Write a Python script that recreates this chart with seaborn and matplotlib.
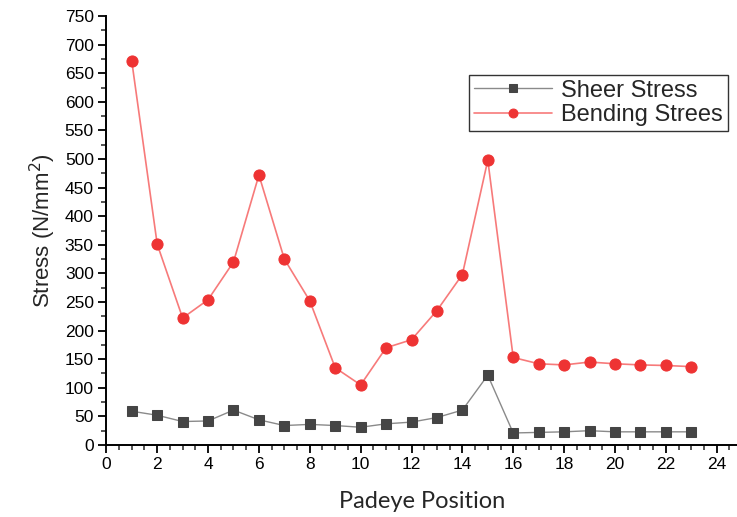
import matplotlib
matplotlib.use("Agg")
import matplotlib.pyplot as plt
import seaborn as sns
import pandas as pd
from matplotlib.ticker import MultipleLocator

positions = list(range(1, 24))
sheer_stress = [59, 52, 41, 42, 61, 44, 34, 36, 34, 31, 37, 40, 48, 61, 122,
                21, 22, 23, 25, 23, 23, 23, 23]
bending_stress = [671, 351, 222, 254, 320, 472, 325, 252, 135, 105, 170, 184, 235,
                  298, 498, 153, 142, 140, 145, 142, 140, 139, 137]
series_names = ["Sheer Stress", "Bending Strees"]

df = pd.DataFrame({
    "pos": positions * 2,
    "stress": sheer_stress + bending_stress,
    "series": [series_names[0]] * len(positions) + [series_names[1]] * len(positions),
})

sns.set_style("ticks")
plt.rcParams["font.family"] = ["Liberation Sans", "DejaVu Sans"]

fig = plt.figure(figsize=(7.37, 5.17), dpi=100)
ax = fig.add_axes([0.1443, 0.1393, 0.8557, 0.8297])

sheer = df[df.series == series_names[0]]
bend = df[df.series == series_names[1]]
sns.lineplot(data=sheer, x="pos", y="stress", ax=ax, color="#8a8a8a", lw=1.0,
             marker="s", markersize=7.5, markerfacecolor="#454545",
             markeredgecolor="#454545", label=series_names[0])
sns.lineplot(data=bend, x="pos", y="stress", ax=ax, color="#f77a7a", lw=1.2,
             marker="o", markersize=8, markerfacecolor="#ee3333",
             markeredgecolor="#ee3333", label=series_names[1])

ax.set_xlim(0, 24.8)
ax.set_ylim(0, 750)
ax.xaxis.set_major_locator(MultipleLocator(2))
ax.xaxis.set_minor_locator(MultipleLocator(0.5))
ax.yaxis.set_major_locator(MultipleLocator(50))
ax.yaxis.set_minor_locator(MultipleLocator(25))
ax.tick_params(axis="both", which="major", length=6, width=1.3, direction="out",
               labelsize=12.5, colors="black", pad=3)
ax.tick_params(axis="both", which="minor", length=3.5, width=1.1, direction="out")
for s in ["top", "right"]:
    ax.spines[s].set_visible(False)
for s in ["left", "bottom"]:
    ax.spines[s].set_linewidth(1.4)
    ax.spines[s].set_color("black")

ax.set_ylabel("Stress (N/mm$^2$)", fontsize=16, labelpad=5)
ax.set_xlabel("Padeye Position", fontsize=17, family=["Lato", "DejaVu Sans"], labelpad=13)

leg = ax.legend(loc="upper left", bbox_to_anchor=(469 / 737, 1 - 75 / 517),
                bbox_transform=fig.transFigure, borderaxespad=0, fancybox=False,
                frameon=True, fontsize=17, handlelength=3.3, handletextpad=0.4,
                borderpad=0.2, labelspacing=0.1, markerscale=0.8)
leg.get_frame().set_edgecolor("#333333")
leg.get_frame().set_linewidth(1.0)
leg.get_frame().set_alpha(1)

fig.savefig("out.png", dpi=100)
